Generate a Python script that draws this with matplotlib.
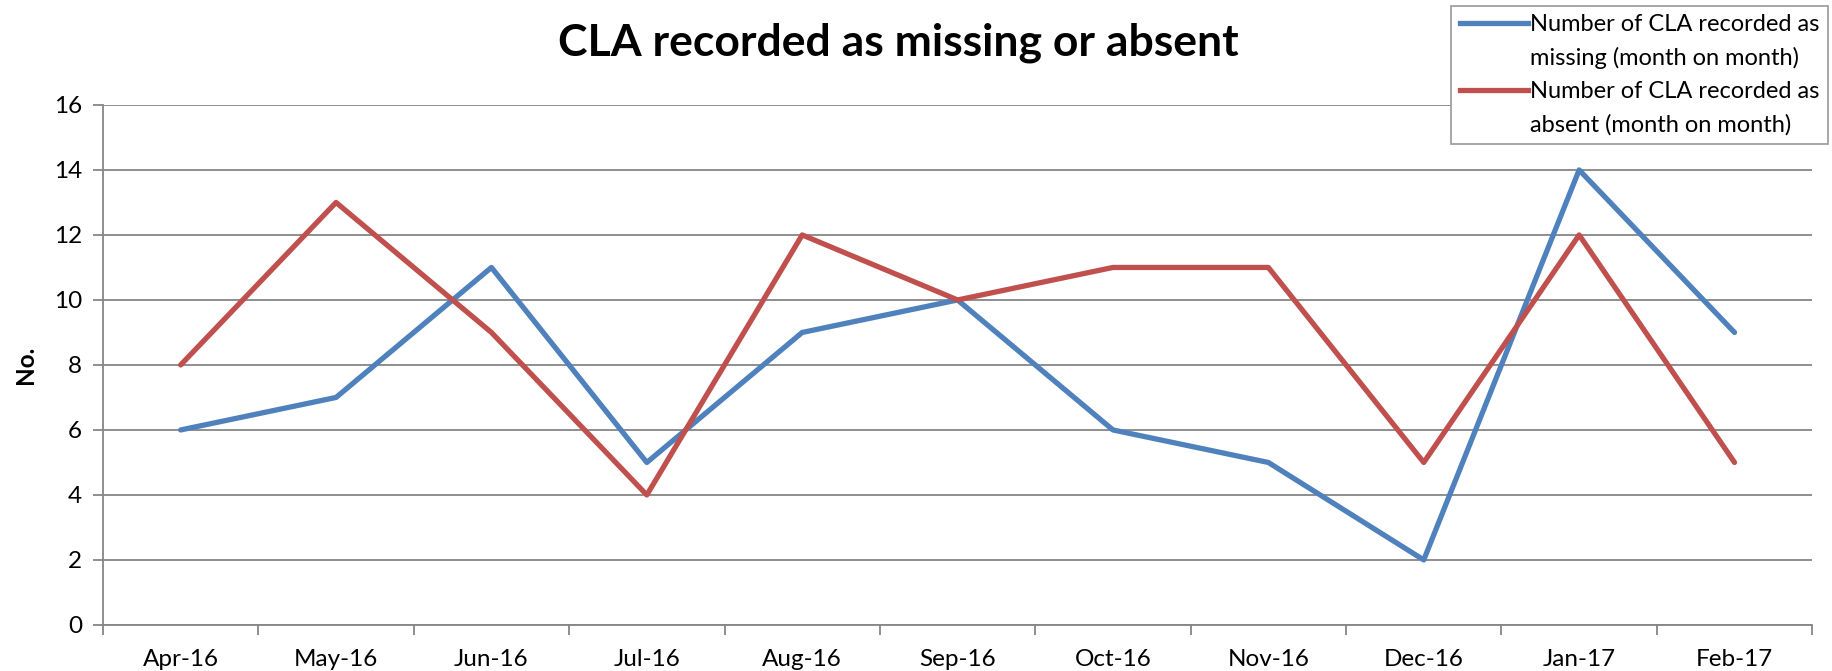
import matplotlib
matplotlib.use('Agg')
import matplotlib.pyplot as plt
from matplotlib.lines import Line2D
import numpy as np

plt.rcParams['font.family'] = ['Lato', 'DejaVu Sans']

months = ['Apr-16', 'May-16', 'Jun-16', 'Jul-16', 'Aug-16', 'Sep-16',
          'Oct-16', 'Nov-16', 'Dec-16', 'Jan-17', 'Feb-17']
missing = [6, 7, 11, 5, 9, 10, 6, 5, 2, 14, 9]
absent = [8, 13, 9, 4, 12, 10, 11, 11, 5, 12, 5]

blue = '#4F81BD'
red = '#C0504D'
grey = '#868686'

x = np.arange(len(months))

fig = plt.figure(figsize=(18.32, 6.71), dpi=100)
ax = fig.add_axes([0.0562, 0.0686, 0.933, 0.775])

ax.plot(x, missing, color=blue, lw=3.8, solid_capstyle='round', zorder=3)
ax.plot(x, absent, color=red, lw=3.8, solid_capstyle='round', zorder=3)

ax.set_xlim(-0.5, len(months) - 0.5)
ax.set_ylim(0, 16)
ax.set_yticks(np.arange(0, 17, 2))
ax.yaxis.grid(True, color=grey, lw=1.3)
ax.set_axisbelow(True)

ax.set_xticks(x)
ax.set_xticklabels(months, fontsize=17.5)
ax.set_xticks(np.arange(-0.5, len(months)), minor=True)
ax.tick_params(axis='x', which='major', length=0, pad=17)
ax.tick_params(axis='x', which='minor', length=7, width=1.3, color=grey)
ax.tick_params(axis='y', length=7, width=1.3, color=grey, labelsize=17.5, pad=8)

for s in ['top', 'right']:
    ax.spines[s].set_visible(False)
for s in ['left', 'bottom']:
    ax.spines[s].set_color(grey)
    ax.spines[s].set_linewidth(1.3)

ax.set_ylabel('No.', fontsize=17.5, fontweight='bold', labelpad=12)
fig.text(0.4905, 0.936, 'CLA recorded as missing or absent', fontsize=32,
         fontweight='bold', ha='center', va='center')

handles = [Line2D([], [], color=blue, lw=3.8),
           Line2D([], [], color='none'),
           Line2D([], [], color=red, lw=3.8),
           Line2D([], [], color='none')]
labels = ['Number of CLA recorded as', 'missing (month on month)',
          'Number of CLA recorded as', 'absent (month on month)']
leg = fig.legend(handles, labels, loc='upper right',
                 bbox_to_anchor=(1828 / 1832, 1 - 6 / 671),
                 bbox_transform=fig.transFigure, fontsize=17,
                 fancybox=False, framealpha=1, edgecolor='#A0A0A0',
                 labelspacing=0.5, handlelength=2.9, handletextpad=0.1,
                 borderpad=0.35, borderaxespad=0)
leg.get_frame().set_linewidth(1.3)

fig.savefig('out.png', dpi=100)
